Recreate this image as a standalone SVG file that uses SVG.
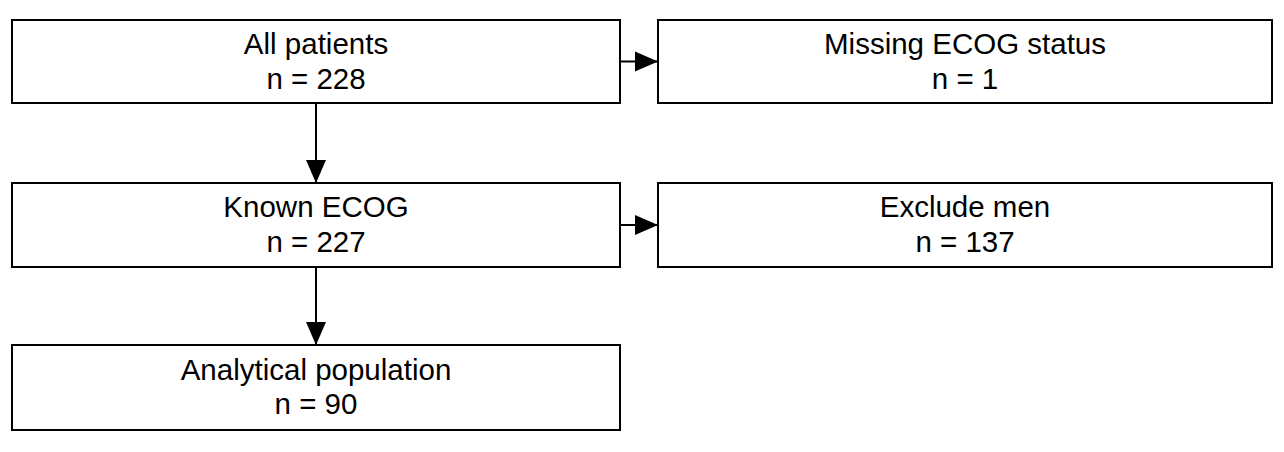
<svg xmlns="http://www.w3.org/2000/svg" width="1284" height="452" viewBox="0 0 1284 452">
<style>
.box{fill:#fff;stroke:#000;stroke-width:2}
.t{font-family:"Liberation Sans",Arial,sans-serif;font-size:29.5px;fill:#000;text-anchor:middle}
.c{stroke:#000;stroke-width:2;fill:none}
</style>
<defs>
<marker id="ah" markerUnits="userSpaceOnUse" markerWidth="26" markerHeight="22" refX="23" refY="11" orient="auto">
<path d="M0,1 L23,11 L0,21 Z" fill="#000"/>
</marker>
</defs>
<rect width="1284" height="452" fill="#fff"/>
<g id="connectors">
<line class="c" x1="620" y1="61.5" x2="658" y2="61.5" marker-end="url(#ah)"/>
<line class="c" x1="316" y1="103" x2="316" y2="183" marker-end="url(#ah)"/>
<line class="c" x1="620" y1="225" x2="658" y2="225" marker-end="url(#ah)"/>
<line class="c" x1="316" y1="267" x2="316" y2="345" marker-end="url(#ah)"/>
</g>
<g id="all">
<rect class="box" x="12" y="20" width="608" height="83"/>
<text class="t" x="316" y="54">All patients</text>
<text class="t" x="316" y="89">n = 228</text>
</g>
<g id="missing">
<rect class="box" x="658" y="20" width="614" height="83"/>
<text class="t" x="965" y="54">Missing ECOG status</text>
<text class="t" x="965" y="89">n = 1</text>
</g>
<g id="known">
<rect class="box" x="12" y="183" width="608" height="84"/>
<text class="t" x="316" y="217">Known ECOG</text>
<text class="t" x="316" y="252">n = 227</text>
</g>
<g id="exclude">
<rect class="box" x="658" y="183" width="614" height="84"/>
<text class="t" x="965" y="217">Exclude men</text>
<text class="t" x="965" y="252">n = 137</text>
</g>
<g id="analytical">
<rect class="box" x="12" y="345" width="608" height="85"/>
<text class="t" x="316" y="380">Analytical population</text>
<text class="t" x="316" y="414">n = 90</text>
</g>
</svg>
